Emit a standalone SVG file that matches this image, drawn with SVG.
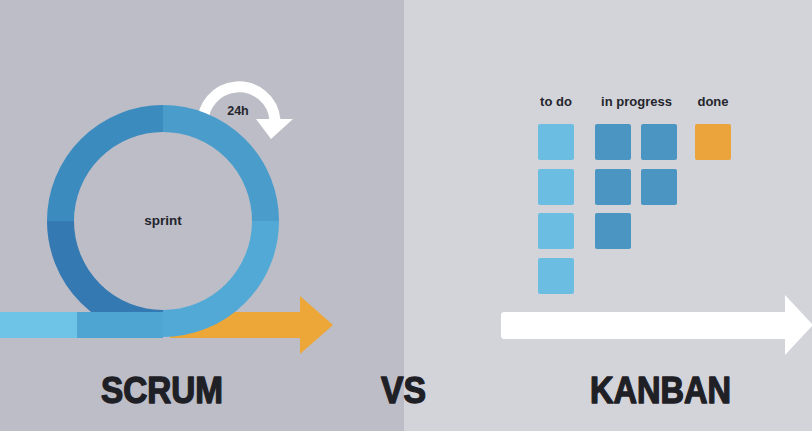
<svg xmlns="http://www.w3.org/2000/svg" width="812" height="431" viewBox="0 0 812 431">
  <style>
    .lbl { font-family: "Liberation Sans", Arial, sans-serif; font-weight: bold; fill: #24252c; }
    .title { font-family: "Liberation Sans", Arial, sans-serif; font-weight: bold; font-size: 37px; fill: #1f2026; stroke: #1f2026; stroke-width: 1.4; stroke-linejoin: round; }
    .todo { fill: #6bbee2; }
    .prog { fill: #4a95c2; }
    .done { fill: #eba33b; }
    .ring { fill: none; stroke-width: 27; }
  </style>

  <!-- backgrounds -->
  <rect x="0" y="0" width="404" height="431" fill="#bcbdc6"/>
  <rect x="404" y="0" width="408" height="431" fill="#d3d4da"/>

  <!-- Scrum side -->
  <g id="scrum">
    <!-- daily cycle arrow -->
    <g id="daily">
      <path d="M 203 126 A 36 36 0 1 1 275 120" fill="none" stroke="#ffffff" stroke-width="11"/>
      <polygon points="256,119 293,119 271,139" fill="#ffffff"/>
      <text class="lbl" x="238" y="115" font-size="12.5" text-anchor="middle">24h</text>
    </g>

    <!-- output arrow -->
    <polygon points="170,312 300,312 300,296 333,325 300,354 300,338 170,338" fill="#eda638"/>

    <!-- sprint ring -->
    <g id="sprint">
      <path class="ring" d="M 60.5 221 A 102.5 102.5 0 0 1 163 118.5" stroke="#3b8bbf"/>
      <path class="ring" d="M 163 118.5 A 102.5 102.5 0 0 1 265.5 221" stroke="#4a9dcb"/>
      <path class="ring" d="M 265.5 221 A 102.5 102.5 0 0 1 163 323.5" stroke="#53a9d5"/>
      <path class="ring" d="M 163 323.5 A 102.5 102.5 0 0 1 60.5 221" stroke="#3579b3"/>
      <text class="lbl" x="163" y="225" font-size="13.5" text-anchor="middle">sprint</text>
    </g>

    <!-- input band -->
    <rect x="77" y="312" width="86" height="26" fill="#4fa5d1"/>
    <rect x="0" y="312" width="77" height="26" fill="#6dc4e6"/>
  </g>

  <!-- Kanban board -->
  <g id="kanban">
    <text class="lbl" x="556" y="106" font-size="13" text-anchor="middle">to do</text>
    <text class="lbl" x="636.5" y="106" font-size="13" text-anchor="middle">in progress</text>
    <text class="lbl" x="713" y="106" font-size="13" text-anchor="middle">done</text>

    <rect class="todo" x="538" y="124" width="36" height="36" rx="2"/>
    <rect class="todo" x="538" y="169" width="36" height="36" rx="2"/>
    <rect class="todo" x="538" y="213" width="36" height="36" rx="2"/>
    <rect class="todo" x="538" y="258" width="36" height="36" rx="2"/>

    <rect class="prog" x="595" y="124" width="36" height="36" rx="2"/>
    <rect class="prog" x="641" y="124" width="36" height="36" rx="2"/>
    <rect class="prog" x="595" y="169" width="36" height="36" rx="2"/>
    <rect class="prog" x="641" y="169" width="36" height="36" rx="2"/>
    <rect class="prog" x="595" y="213" width="36" height="36" rx="2"/>

    <rect class="done" x="695" y="124" width="36" height="36" rx="2"/>

    <!-- flow arrow -->
    <polygon points="503,312 785,312 785,295 813,325 785,355 785,339 503,339 501,337 501,314" fill="#ffffff"/>
  </g>

  <!-- headings -->
  <text class="title" x="101" y="403" textLength="122" lengthAdjust="spacingAndGlyphs">SCRUM</text>
  <text class="title" x="381" y="403" textLength="45" lengthAdjust="spacingAndGlyphs">VS</text>
  <text class="title" x="590" y="403" textLength="141" lengthAdjust="spacingAndGlyphs">KANBAN</text>
</svg>
